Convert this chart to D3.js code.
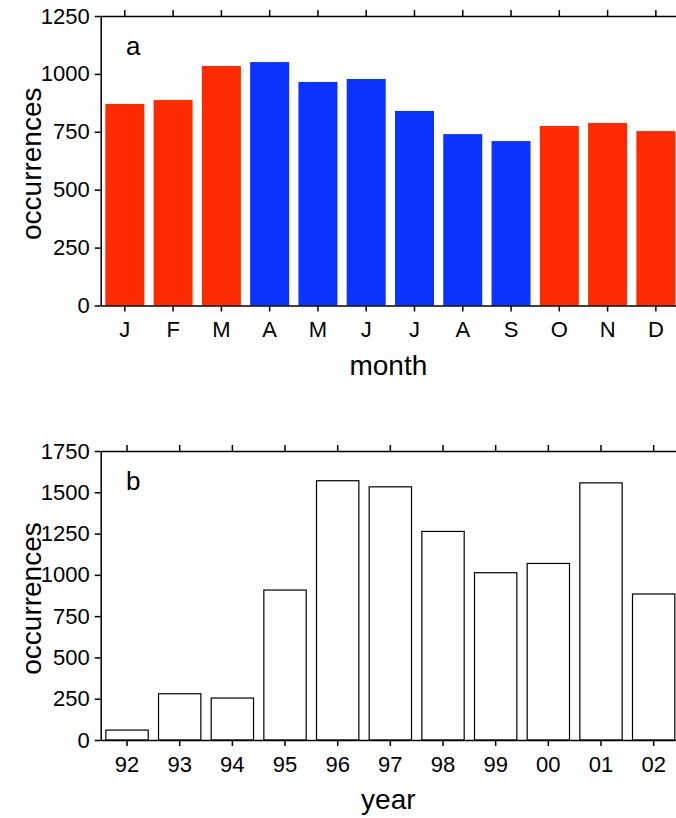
<!DOCTYPE html>
<html>
<head>
<meta charset="utf-8">
<script src="https://cdn.jsdelivr.net/npm/d3@7"></script>
<style>
  html, body { margin: 0; padding: 0; background: #fff; }
  svg { display: block; font-family: "Liberation Sans", Arial, Helvetica, sans-serif; }
  .axis path, .axis line { stroke: #000; stroke-width: 1.5px; }
  .axis text { fill: #000; font-size: 22px; }
</style>
</head>
<body>
<svg id="chart" width="676" height="818"></svg>
<script>
// Monthly occurrences (panel a)
const months = ["J", "F", "M", "A", "M", "J", "J", "A", "S", "O", "N", "D"];
const monthCounts = [870, 887, 1034, 1051, 965, 978, 840, 740, 710, 775, 788, 753];
const monthSeason = ["cold", "cold", "cold", "warm", "warm", "warm", "warm", "warm", "warm", "cold", "cold", "cold"];
const monthTicks = [0, 250, 500, 750, 1000, 1250];

// Yearly occurrences (panel b)
const years = ["92", "93", "94", "95", "96", "97", "98", "99", "00", "01", "02"];
const yearCounts = [60, 280, 254, 908, 1570, 1533, 1263, 1013, 1069, 1557, 884];
const yearTicks = [0, 250, 500, 750, 1000, 1250, 1500, 1750];

const seasonColor = { cold: "#ff2a00", warm: "#0c32ff" };

const svg = d3.select("#chart");
const xLeft = 100.7, xRight = 680;

function panel(opts) {
  const g = svg.append("g");
  const idx = opts.labels.map((d, i) => i);
  const x = d3.scaleBand().domain(idx).range([xLeft, xRight])
    .paddingInner(opts.pad).paddingOuter(opts.pad / 2);
  const y = d3.scaleLinear().domain([0, opts.max]).range([opts.bottom, opts.top]);

  // bars
  g.append("g").selectAll("rect").data(opts.values).join("rect")
    .attr("x", (d, i) => x(i))
    .attr("width", x.bandwidth())
    .attr("y", d => y(d))
    .attr("height", d => y(0) - y(d))
    .attr("fill", (d, i) => opts.fill(i))
    .attr("stroke", opts.stroke || "none")
    .attr("stroke-width", opts.stroke ? 1.2 : 0);

  // axes
  g.append("g").attr("class", "axis")
    .attr("transform", `translate(0,${opts.bottom})`)
    .call(d3.axisBottom(x).tickSize(6).tickSizeOuter(0).tickPadding(10)
      .tickFormat(i => opts.labels[i]));
  g.append("g").attr("class", "axis")
    .attr("transform", `translate(0,${opts.top})`)
    .call(d3.axisTop(x).tickSize(6).tickSizeOuter(0).tickFormat(""));
  g.append("g").attr("class", "axis")
    .attr("transform", `translate(${xLeft},0)`)
    .call(d3.axisLeft(y).tickValues(opts.ticks).tickSize(6).tickSizeOuter(0).tickPadding(5)
      .tickFormat(d3.format("d")));

  // panel letter
  g.append("text").attr("x", 126).attr("y", opts.top + 39)
    .attr("font-size", 26).text(opts.letter);

  // axis titles
  g.append("text").attr("x", (xLeft + 676) / 2 + 0).attr("y", opts.bottom + 69)
    .attr("text-anchor", "middle").attr("font-size", 28).text(opts.xTitle);
  g.append("text")
    .attr("transform", `translate(41,${(opts.top + opts.bottom) / 2 + 3}) rotate(-90)`)
    .attr("text-anchor", "middle").attr("font-size", 28).text("occurrences");
}

panel({
  labels: months, values: monthCounts, ticks: monthTicks, max: 1250,
  top: 16, bottom: 305.5, pad: 0.192, letter: "a", xTitle: "month",
  fill: i => seasonColor[monthSeason[i]]
});

panel({
  labels: years, values: yearCounts, ticks: yearTicks, max: 1750,
  top: 451, bottom: 740, pad: 0.196, letter: "b", xTitle: "year",
  fill: () => "#fff", stroke: "#000"
});
</script>
</body>
</html>
